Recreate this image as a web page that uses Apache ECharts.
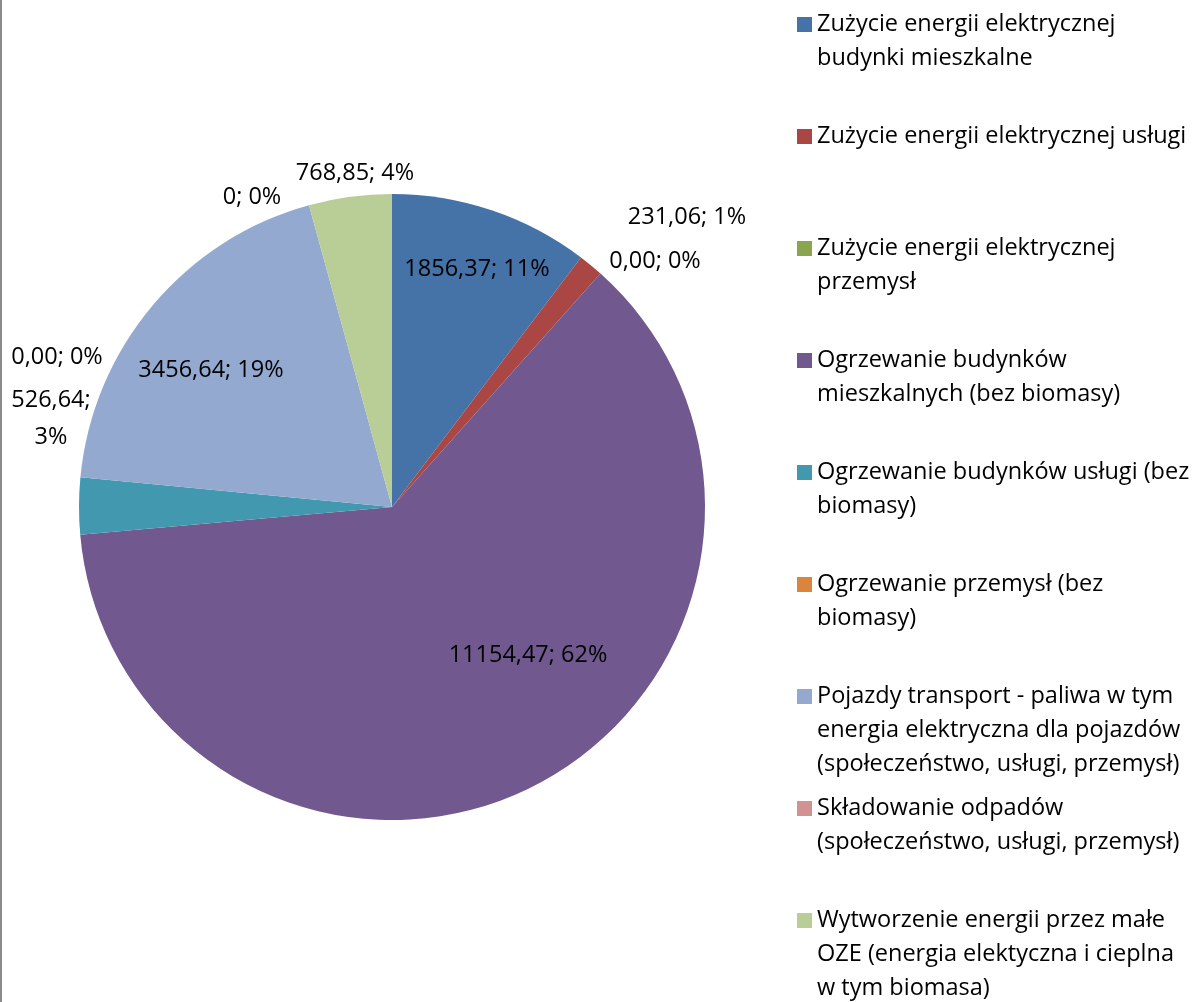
<!DOCTYPE html>
<html>
<head>
<meta charset="utf-8">
<script src="https://cdn.jsdelivr.net/npm/echarts@6/dist/echarts.min.js"></script>
<style>
  html, body { margin: 0; padding: 0; background: #fff; }
  #chart { width: 1192px; height: 1002px; }
</style>
</head>
<body>
<div id="chart"></div>
<script>
const categories = [
  'Zużycie energii elektrycznej budynki mieszkalne',
  'Zużycie energii elektrycznej usługi',
  'Zużycie energii elektrycznej przemysł',
  'Ogrzewanie budynków mieszkalnych (bez biomasy)',
  'Ogrzewanie budynków usługi (bez biomasy)',
  'Ogrzewanie przemysł (bez biomasy)',
  'Pojazdy transport - paliwa w tym energia elektryczna dla pojazdów (społeczeństwo, usługi, przemysł)',
  'Składowanie odpadów (społeczeństwo, usługi, przemysł)',
  'Wytworzenie energii przez małe OZE (energia elektyczna i cieplna w tym biomasa)'
]
const values = [1856.37, 231.06, 0, 11154.47, 526.64, 0, 3456.64, 0, 768.85]
const valueDecimals = [2, 2, 2, 2, 2, 2, 2, 0, 2]

// legend text as wrapped in the original
const legendLabels = [
  'Zużycie energii elektrycznej\nbudynki mieszkalne',
  'Zużycie energii elektrycznej usługi',
  'Zużycie energii elektrycznej\nprzemysł',
  'Ogrzewanie budynków\nmieszkalnych (bez biomasy)',
  'Ogrzewanie budynków usługi (bez\nbiomasy)',
  'Ogrzewanie przemysł (bez\nbiomasy)',
  'Pojazdy transport - paliwa w tym\nenergia elektryczna dla pojazdów\n(społeczeństwo, usługi, przemysł)',
  'Składowanie odpadów\n(społeczeństwo, usługi, przemysł)',
  'Wytworzenie energii przez małe\nOZE (energia elektyczna i cieplna\nw tym biomasa)'
]

const colors = ['#4572A7', '#AA4643', '#89A54E', '#71588F', '#4198AF', '#DB843D', '#93A9CF', '#D19392', '#B9CD96']

// label centres (px) as placed in the original
const labelPos = [
  [477, 269], [687, 217], [655, 261], [528, 655], [51, 419],
  [57, 357], [211, 370], [252, 197], [355, 173]
]
const wrapLabel = [4]

const FONT = 'Open Sans'
const FS = 23.5
const LH = 34
const SQ = 15

const chart = echarts.init(document.getElementById('chart'))

const fmtValue = (v, d) => v.toFixed(d).replace('.', ',')

// square icon sitting on the first text line of a tall legend item
const iconFor = (n) => {
  const h = n * LH
  const y0 = (LH - SQ) / 2
  return 'path://M0,0H0.01M0,' + y0 + 'H' + SQ + 'V' + (y0 + SQ) + 'H0Z' +
    'M0,' + h + 'H0.01'
}

const legends = categories.map((name, i) => {
  const n = legendLabels[i].split('\n').length
  const center = 24.5 + i * 112
  return {
    data: [name],
    orient: 'vertical',
    left: 797,
    top: center - LH / 2,
    padding: 0,
    itemWidth: SQ,
    itemHeight: n * LH,
    itemGap: 0,
    icon: iconFor(n),
    itemStyle: { borderWidth: 0 },
    selectedMode: false,
    formatter: () => legendLabels[i],
    textStyle: {
      fontFamily: FONT,
      fontSize: FS,
      color: '#000',
      lineHeight: LH
    }
  }
})

const option = {
  animation: false,
  color: colors,
  legend: legends,
  graphic: [
    { type: 'rect', shape: { x: 0, y: 0, width: 2, height: 1002 }, style: { fill: '#8a8a8a' } }
  ],
  series: [
    {
      type: 'pie',
      center: [392, 507],
      radius: 313,
      startAngle: 90,
      clockwise: true,
      percentPrecision: 0,
      avoidLabelOverlap: false,
      itemStyle: { borderWidth: 0 },
      label: {
        show: true,
        position: 'inside',
        fontFamily: FONT,
        fontSize: FS,
        color: '#000',
        lineHeight: 37,
        formatter: (p) => {
          const txt = fmtValue(p.value, valueDecimals[p.dataIndex])
          const sep = wrapLabel.includes(p.dataIndex) ? ';\n' : '; '
          return txt + sep + p.percent + '%'
        }
      },
      labelLine: { show: false },
      labelLayout: (p) => ({
        x: labelPos[p.dataIndex][0],
        y: labelPos[p.dataIndex][1],
        align: 'center',
        verticalAlign: 'middle'
      }),
      emphasis: { disabled: true },
      data: categories.map((name, i) => ({ name, value: values[i] }))
    }
  ]
}

chart.setOption(option)
</script>
</body>
</html>
